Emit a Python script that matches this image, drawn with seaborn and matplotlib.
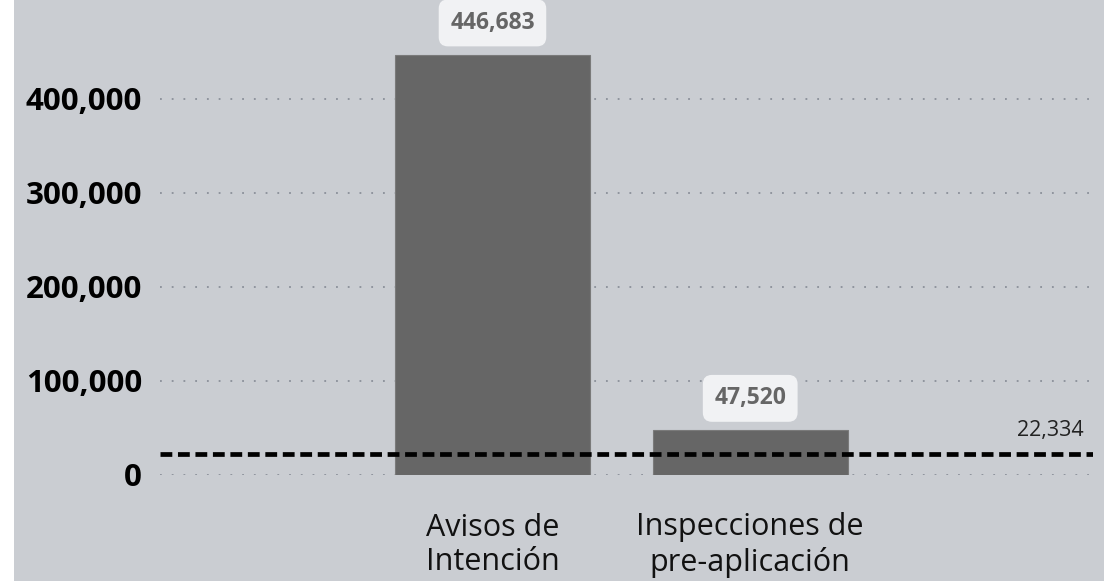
import matplotlib
matplotlib.use("Agg")

import matplotlib.pyplot as plt
import matplotlib.patches as mpatches
import seaborn as sns
import pandas as pd
from matplotlib.ticker import FuncFormatter

categories = ["Avisos de\nIntención", "Inspecciones de\npre-aplicación"]
values = [446683, 47520]
reference_value = 22334
y_ticks = [0, 100000, 200000, 300000, 400000]

BG = "#cacdd2"
BAR = "#666666"

sns.set_theme(style="white")
plt.rcParams["font.family"] = ["Open Sans", "DejaVu Sans"]

fig = plt.figure(figsize=(11.04, 5.81), dpi=100, facecolor=BG)
# thin white strip on the left edge
fig.patches.append(mpatches.Rectangle((0, 0), 14 / 1104, 1, transform=fig.transFigure,
                                      facecolor="white", edgecolor="none", zorder=-1))
ax = fig.add_axes([160 / 1104, 106 / 581, (1093 - 160) / 1104, 475 / 581])
ax.set_facecolor(BG)

df = pd.DataFrame({"cat": categories, "val": values})
sns.barplot(data=df, x="cat", y="val", color=BAR, saturation=1, width=0.756,
            edgecolor="#7a7a7a", linewidth=0.8, ax=ax, zorder=2)

ax.set_xlim(-1.29, 2.33)
ax.set_ylim(0, 505000)
ax.set_yticks(y_ticks)
ax.yaxis.set_major_formatter(FuncFormatter(lambda v, p: f"{int(v):,}"))
ax.grid(axis="y", color="#8a8f99", linestyle=(0, (1, 5.5)), linewidth=1.3, zorder=0)
ax.grid(axis="x", visible=False)
for s in ax.spines.values():
    s.set_visible(False)

ax.tick_params(axis="y", length=0, pad=13, labelsize=22.5, labelcolor="black")
for lbl in ax.get_yticklabels():
    lbl.set_fontweight("bold")
ax.tick_params(axis="x", length=0, pad=27, labelsize=22, labelcolor="#111111")
for lbl in ax.get_xticklabels():
    lbl.set_linespacing(1.2)
ax.set_xlabel("")
ax.set_ylabel("")

# value labels in rounded boxes
for i, v in enumerate(values):
    ax.annotate(f"{v:,}", xy=(i, v), xytext=(0, 23), textcoords="offset points",
                ha="center", va="center", fontsize=16.5, fontweight="bold", color="#666666",
                bbox=dict(boxstyle="round,pad=0.5,rounding_size=0.4", fc="#f1f2f4", ec="none"),
                zorder=4)

# reference line
ax.axhline(reference_value, color="black", linewidth=3.4, linestyle=(0, (2.5, 1.2)), zorder=3)
ax.annotate(f"{reference_value:,}", xy=(1, reference_value), xycoords=("axes fraction", "data"),
            xytext=(-7, 9), textcoords="offset points", ha="right", va="bottom",
            fontsize=15.5, color="#222222")

fig.savefig("out.png", dpi=100, facecolor=BG)
plt.close(fig)
